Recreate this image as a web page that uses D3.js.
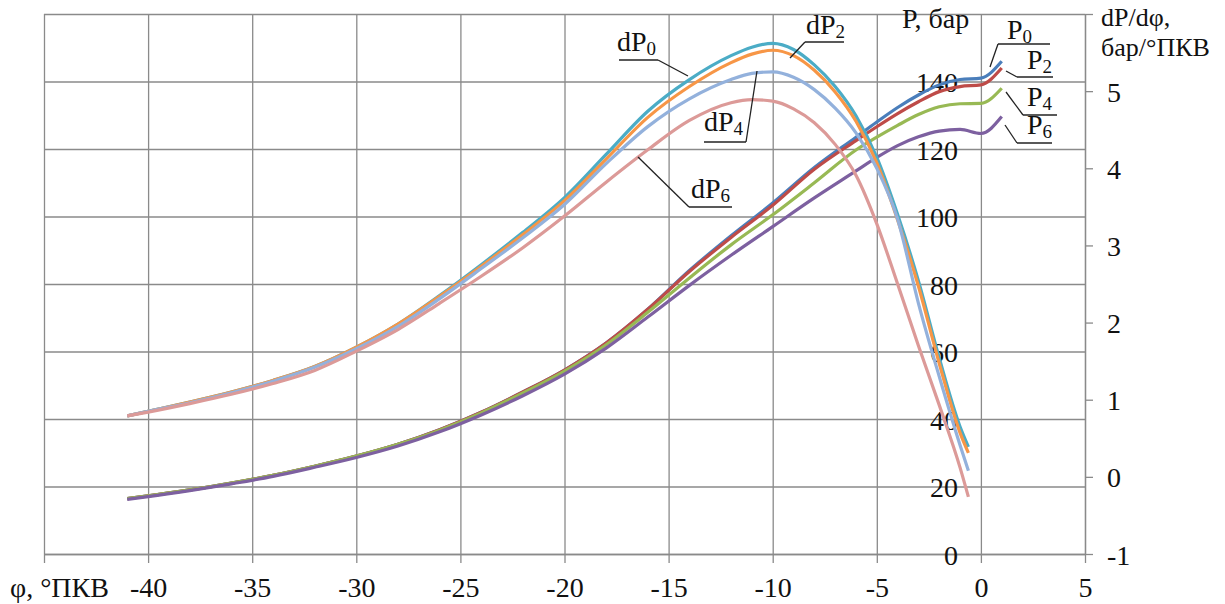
<!DOCTYPE html>
<html><head><meta charset="utf-8">
<script src="https://cdn.jsdelivr.net/npm/d3@7"></script>
<style>
body{margin:0;background:#fff}
svg{display:block}
</style>
</head><body>
<svg id="c" width="1225" height="604"></svg>
<script>
// ---- data ----
const phiP = [-41,-40,-38,-36,-34,-32,-30,-28,-26,-24,-22,-20,-18,-16,-14,-12,-10,-8,-6,-5,-4,-3,-2,-1,0,1];
const P0 = [16.4,17.2,19.0,21.0,23.3,26.0,29.0,32.5,36.8,42.0,48.0,54.5,62.5,72.5,84.0,94.3,104.0,114.5,123.5,128.0,132.3,136.0,139.0,140.6,141.0,146.0];
const P2 = [16.4,17.2,19.0,21.0,23.3,26.0,29.0,32.5,36.8,42.0,48.0,54.5,62.5,72.5,83.7,93.8,103.3,114.0,122.5,126.6,130.5,134.0,137.0,138.5,139.0,144.0];
const P4 = [16.4,17.2,19.0,21.0,23.3,26.0,29.0,32.5,36.7,41.8,47.7,54.2,62.0,71.6,81.8,91.6,100.5,110.0,119.7,123.5,127.0,130.2,132.5,133.4,133.5,138.0];
const P6 = [16.2,17.0,18.8,20.8,23.0,25.7,28.6,32.0,36.2,41.2,46.9,53.3,61.0,70.2,79.6,88.5,97.0,105.5,113.5,117.5,121.0,123.6,125.3,125.8,124.6,129.6];

const phiD = [-41,-40,-38,-36,-34,-32,-30,-28,-26,-24,-22,-20,-18,-16,-14,-12,-11,-10,-9,-8,-7,-6,-5,-4,-3,-2,-1,-0.6];
const dP0 = [0.79,0.85,0.97,1.10,1.25,1.43,1.68,1.98,2.35,2.75,3.17,3.62,4.18,4.74,5.15,5.46,5.57,5.62,5.54,5.34,5.06,4.68,4.14,3.40,2.54,1.54,0.65,0.39];
const dP2 = [0.79,0.85,0.97,1.10,1.25,1.43,1.68,1.98,2.34,2.73,3.14,3.58,4.12,4.66,5.06,5.37,5.48,5.53,5.46,5.27,4.99,4.61,4.07,3.33,2.47,1.47,0.57,0.31];
const dP4 = [0.79,0.85,0.96,1.09,1.24,1.42,1.66,1.95,2.31,2.70,3.10,3.53,4.06,4.54,4.90,5.15,5.23,5.25,5.18,5.02,4.78,4.46,4.00,3.34,2.25,1.30,0.41,0.08];
const dP6 = [0.79,0.84,0.95,1.07,1.21,1.38,1.63,1.91,2.25,2.60,2.97,3.38,3.82,4.24,4.62,4.85,4.89,4.87,4.77,4.59,4.31,3.91,3.28,2.50,1.70,0.93,0.12,-0.26];

const xTicks = [-45,-40,-35,-30,-25,-20,-15,-10,-5,0,5];
const pTicks = [0,20,40,60,80,100,120,140];
const pGrid = [0,20,40,60,80,100,120,140,160];
const dTicks = [-1,0,1,2,3,4,5,6];

// ---- layout ----
const L = 44, R = 1085, T = 14, B = 554;
const FONT = "'Liberation Serif','Times New Roman',Times,serif";
const FS = 28;
const svg = d3.select("#c");
const x = d3.scaleLinear().domain([-45,5]).range([L,R]);
const yP = d3.scaleLinear().domain([0,160]).range([B,T]);
const yD = d3.scaleLinear().domain([-1,6]).range([B,T]);
const grid = "#8a8a8a";

// grid
const gv = svg.append("g").attr("transform",`translate(0,${B})`)
  .call(d3.axisBottom(x).tickValues(xTicks).tickSize(-(B-T)).tickSizeOuter(0).tickFormat(""));
const gh = svg.append("g").attr("transform",`translate(${L},0)`)
  .call(d3.axisLeft(yP).tickValues(pGrid).tickSize(-(R-L)).tickSizeOuter(0).tickFormat(""));
[gv,gh].forEach(g=>{g.select(".domain").remove();g.selectAll("line").attr("stroke",grid).attr("stroke-width",1.3);});

// x axis ticks + labels
const gx = svg.append("g").attr("transform",`translate(0,${B})`)
  .call(d3.axisBottom(x).tickValues(xTicks).tickSize(9).tickSizeOuter(0).tickFormat(d=>d===-45?"":String(d)));
gx.select(".domain").attr("stroke",grid).attr("stroke-width",1.3);
gx.selectAll("line").attr("stroke",grid).attr("stroke-width",1.3);
gx.selectAll("text").attr("y",43).attr("dy",null);
svg.append("text").attr("x",10).attr("y",597).text("φ, °ПКВ");

// right axis (dP/dφ)
const gr = svg.append("g").attr("transform",`translate(${R},0)`)
  .call(d3.axisRight(yD).tickValues(dTicks).tickSize(8).tickSizeOuter(0).tickFormat(d=>d===6?"":String(d)));
gr.select(".domain").attr("stroke",grid).attr("stroke-width",1.3);
gr.selectAll("line").attr("stroke",grid).attr("stroke-width",1.3);
gr.selectAll("text").attr("x",22).attr("dy","10");

// P axis labels at phi = 0
const gp = svg.append("g").attr("transform",`translate(${x(0)},0)`)
  .call(d3.axisLeft(yP).tickValues(pTicks).tickSize(0).tickFormat(d=>String(d)));
gp.select(".domain").remove();
gp.selectAll("text").attr("x",-23).attr("dy","10");

// axis titles
svg.append("text").attr("x",902).attr("y",28).text("P, бар");
svg.append("text").attr("x",1101).attr("y",26).attr("class","ttl").text("dP/dφ,");
svg.append("text").attr("x",1101).attr("y",56).attr("class","ttl").text("бар/°ПКВ");

// series
const lineP = d3.line().x(d=>x(d[0])).y(d=>yP(d[1])).curve(d3.curveMonotoneX);
const lineD = d3.line().x(d=>x(d[0])).y(d=>yD(d[1])).curve(d3.curveMonotoneX);
const pSeries = [[P0,"#4a7ebb"],[P2,"#be4b48"],[P4,"#98b954"],[P6,"#7d60a0"]];
const dSeries = [[dP0,"#4bacc6"],[dP2,"#f79646"],[dP4,"#93b1dc"],[dP6,"#dc9a98"]];
pSeries.forEach(([v,c])=>{
  svg.append("path").datum(phiP.map((p,i)=>[p,v[i]])).attr("d",lineP)
    .attr("fill","none").attr("stroke",c).attr("stroke-width",3.2).attr("stroke-linejoin","round");
});
dSeries.forEach(([v,c])=>{
  svg.append("path").datum(phiD.map((p,i)=>[p,v[i]])).attr("d",lineD)
    .attr("fill","none").attr("stroke",c).attr("stroke-width",3.2).attr("stroke-linejoin","round");
});

// callout labels
function callout(main, sub, tx, ty, ul, ld){
  const t = svg.append("text").attr("x",tx).attr("y",ty);
  t.append("tspan").text(main);
  t.append("tspan").attr("dy",4).attr("class","sub").text(sub);
  svg.append("line").attr("x1",ul[0]).attr("x2",ul[1]).attr("y1",ul[2]).attr("y2",ul[2])
    .attr("stroke","#222").attr("stroke-width",1.3);
  svg.append("line").attr("x1",ld[0]).attr("y1",ld[1]).attr("x2",ld[2]).attr("y2",ld[3])
    .attr("stroke","#222").attr("stroke-width",1.3);
}
callout("dP","0",617,51,[619,658,60],[658,60,688,76]);
callout("dP","2",806,34,[805,844,42],[805,42,790,58]);
callout("dP","4",704,131,[704,746,142],[746,142,757,71]);
callout("dP","6",691,198,[689,732,207],[689,207,638,157]);
callout("P","0",1007,39,[998,1050,44],[998,44,990,67]);
callout("P","2",1027,69,[1017,1053,77],[1017,77,1006,71]);
callout("P","4",1027,106,[1023,1057,115],[1023,115,1006,92]);
callout("P","6",1027,134,[1017,1052,143],[1017,143,1005,125]);

// unified text styling
svg.selectAll("text")
  .attr("font-family",null).attr("font-size",null)
  .style("font-family",FONT).style("font-size",FS+"px").style("fill","#111");
svg.selectAll("text.ttl").style("font-size","26px");
svg.selectAll("tspan.sub").style("font-size","19px");
svg.selectAll("g").attr("font-family",null).attr("font-size",null);
</script>
</body></html>
